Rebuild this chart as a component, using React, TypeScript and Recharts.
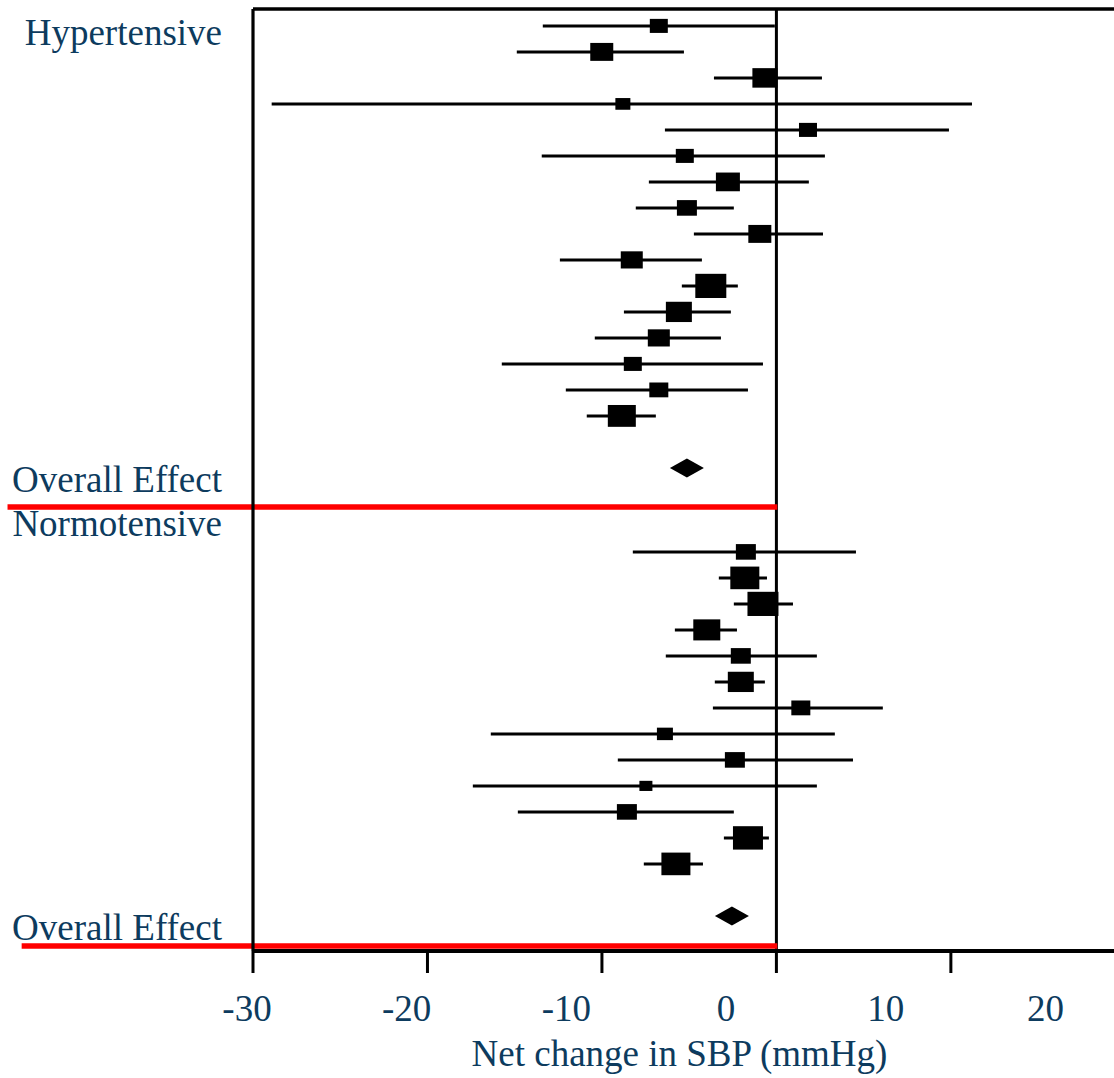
import React from 'react';
import { ComposedChart, Scatter, XAxis, YAxis, ErrorBar, ReferenceLine, Label } from 'recharts';

const FONT = "'Liberation Serif', 'Times New Roman', Times, serif";
const NAVY = '#0d3b5e';

// Hypertensive studies (net change in SBP, mmHg)
const hypMean = [-6.74, -10.01, -0.66, -8.8, 1.81, -5.25, -2.78, -5.13, -0.95, -8.29, -3.76, -5.59, -6.74, -8.23, -6.74, -8.86];
const hypLow = [-13.39, -14.88, -3.58, -28.93, -6.39, -13.45, -7.31, -8.06, -4.73, -12.41, -5.42, -8.74, -10.41, -15.74, -12.07, -10.87];
const hypHigh = [-0.09, -5.3, 2.61, 11.21, 9.89, 2.78, 1.86, -2.44, 2.67, -4.27, -2.21, -2.61, -3.18, -0.77, -1.63, -6.91];
const hypWeight = [18, 23, 25, 15, 18, 18, 24, 20, 23, 22, 31, 26, 22, 18, 19, 28];
const hypOverall = -5.13;

// Normotensive studies
const normMean = [-1.75, -1.81, -0.77, -3.99, -2.04, -2.04, 1.4, -6.39, -2.38, -7.48, -8.57, -1.63, -5.76];
const normLow = [-8.23, -3.3, -2.44, -5.82, -6.34, -3.53, -3.64, -16.37, -9.09, -17.4, -14.82, -3.01, -7.6];
const normHigh = [4.56, -0.54, 0.95, -2.26, 2.32, -0.66, 6.1, 3.35, 4.39, 2.32, -2.44, -0.43, -4.21];
const normWeight = [20, 29, 31, 27, 20, 26, 19, 16, 20, 13, 20, 30, 29];
const normOverall = -2.55;

// Axis texts
const rowLabels = ['Hypertensive', 'Overall Effect', 'Normotensive', 'Overall Effect'];
const rowLabelPos = [0.88, 18.07, 19.76, 35.3];
const tickValues = [-30, -20, -10, 0, 10];
const tickLabels = [-30, -20, -10, 0, 10, 20];
const axisTitle = 'Net change in SBP (mmHg)';

// Row layout (row units)
const HYP_START = 0.65;
const NORM_START = 20.88;
const Y_MAX = 36.23;
const SEP1 = 19.15;
const SEP2 = 36.04;

const buildStudies = (mean: number[], low: number[], high: number[], weight: number[], start: number) =>
  mean.map((m, i) => ({ x: m, y: start + i, err: [m - low[i], high[i] - m], w: weight[i] }));

const studies = [
  ...buildStudies(hypMean, hypLow, hypHigh, hypWeight, HYP_START),
  ...buildStudies(normMean, normLow, normHigh, normWeight, NORM_START),
];

const overallData = [
  { x: hypOverall, y: HYP_START + hypMean.length + 1 },
  { x: normOverall, y: NORM_START + normMean.length + 1 },
];

const Box = (props: any) => {
  const { cx, cy, payload } = props;
  const w = payload.w;
  const h = w * 0.78;
  return <rect x={cx - w / 2} y={cy - h / 2} width={w} height={h} fill="#000" />;
};

const Diamond = (props: any) => {
  const { cx, cy } = props;
  return (
    <polygon
      points={`${cx - 17},${cy} ${cx},${cy - 9.5} ${cx + 17},${cy} ${cx},${cy + 9.5}`}
      fill="#000"
    />
  );
};

const textStyle = { fill: NAVY, fontSize: 37, fontFamily: FONT };

export default function App() {
  return (
    <div style={{ position: 'absolute', left: 0, top: 0, width: 1114, height: 1078, background: '#fff' }}>
      <ComposedChart width={1114} height={1078} margin={{ top: 9, right: 0, bottom: 5, left: 0 }}>
        <XAxis
          xAxisId="d"
          type="number"
          dataKey="x"
          domain={[-30, 19.35]}
          allowDataOverflow
          ticks={tickValues}
          interval={0}
          tickFormatter={() => ''}
          tickSize={22}
          height={22}
          axisLine={{ stroke: '#000', strokeWidth: 4 }}
          tickLine={{ stroke: '#000', strokeWidth: 3 }}
        />
        <XAxis
          xAxisId="l"
          type="number"
          dataKey="x"
          domain={[-30, 24.29]}
          allowDataOverflow
          padding={{ left: -6, right: 0 }}
          ticks={tickLabels}
          interval={0}
          axisLine={false}
          tickLine={false}
          tickSize={0}
          tickMargin={22}
          height={100}
          tick={textStyle}
        >
          <Label value={axisTitle} position="insideBottom" offset={7} dx={-4} fill={NAVY} fontSize={37} fontFamily={FONT} />
        </XAxis>
        <YAxis
          type="number"
          dataKey="y"
          domain={[0, Y_MAX]}
          reversed
          allowDataOverflow
          ticks={rowLabelPos}
          interval={0}
          tickFormatter={(v: number) => rowLabels[rowLabelPos.indexOf(v)] ?? ''}
          width={253}
          tickSize={0}
          tickMargin={31}
          tickLine={false}
          axisLine={{ stroke: '#000', strokeWidth: 3.2 }}
          tick={textStyle}
        />
        <ReferenceLine xAxisId="d" y={0} stroke="#000" strokeWidth={3.6} ifOverflow="visible" />
        <ReferenceLine xAxisId="d" x={0} stroke="#000" strokeWidth={3} ifOverflow="visible" />
        <Scatter xAxisId="d" data={studies} shape={Box} isAnimationActive={false}>
          <ErrorBar dataKey="err" direction="x" width={0} stroke="#000" strokeWidth={3} isAnimationActive={false} />
        </Scatter>
        <Scatter xAxisId="d" data={overallData} shape={Diamond} isAnimationActive={false} />
        <ReferenceLine
          xAxisId="d"
          segment={[{ x: -44.07, y: SEP1 }, { x: 0.05, y: SEP1 }]}
          ifOverflow="visible"
          stroke="#ff0000"
          strokeWidth={5.5}
        />
        <ReferenceLine
          xAxisId="d"
          segment={[{ x: -43.26, y: SEP2 }, { x: 0.05, y: SEP2 }]}
          ifOverflow="visible"
          stroke="#ff0000"
          strokeWidth={5.5}
        />
      </ComposedChart>
    </div>
  );
}
